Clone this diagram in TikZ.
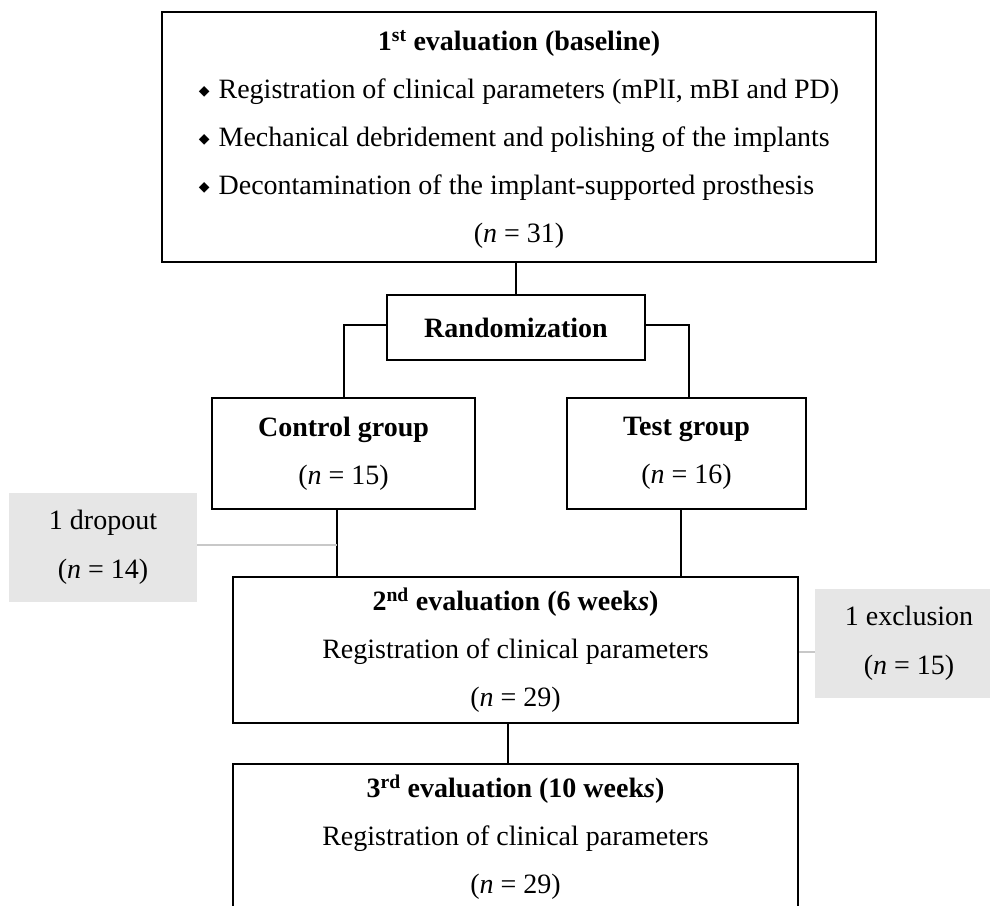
\documentclass[tikz,border=0pt]{standalone}
\usepackage{fontspec}
\setmainfont{Liberation Serif}
\newfontfamily\symfont{DejaVu Sans}
\definecolor{notegray}{HTML}{E6E6E6}
\definecolor{linkgray}{HTML}{C8C8C8}
\newcommand{\dmd}{\raisebox{3.5pt}{\symfont\fontsize{14}{14}\selectfont ◆}\hspace{9pt}}

\begin{document}
\begin{tikzpicture}[
  x=1pt, y=-1pt,
  box/.style={draw, line width=2pt, inner sep=0pt, align=center,
    font=\fontsize{28}{48}\selectfont},
  note/.style={fill=notegray, inner sep=0pt, align=center,
    font=\fontsize{28}{49}\selectfont},
  link/.style={line width=2pt},
  faint/.style={linkgray, line width=2pt},
]
\clip (0,0) rectangle (990,905);

% ===== baseline and randomization =====
\node[box, minimum width=714pt, minimum height=250pt] (base) at (519,137) {%
  \begin{tabular}{@{}l@{}}
  \multicolumn{1}{c}{\textbf{1\textsuperscript{st} evaluation (baseline)}}\\
  \dmd Registration of clinical parameters (mPlI, mBI and PD)\\
  \dmd Mechanical debridement and polishing of the implants\\
  \dmd Decontamination of the implant-supported prosthesis\\
  \multicolumn{1}{c}{(\textit{n} = 31)}
  \end{tabular}};
\node[box, minimum width=258pt, minimum height=65pt] (rand) at (516,327.5) {\textbf{Randomization}};

% ===== groups =====
\node[box, minimum width=263pt, minimum height=111pt] (ctrl) at (343.5,453.5)
  {\textbf{Control group}\\(\textit{n} = 15)};
\node[box, minimum width=239pt, minimum height=111pt] (test) at (686.5,453.5)
  {\textbf{Test group}\\(\textit{n} = 16)};
\node[note, minimum width=188pt, minimum height=109pt] (drop) at (103,547.5)
  {1 dropout\\(\textit{n} = 14)};

% ===== follow-up evaluations =====
\node[box, minimum width=565pt, minimum height=146pt] (eval2) at (515.5,650)
  {\textbf{2\textsuperscript{nd} evaluation (6 week\textit{s})}\\Registration of clinical parameters\\(\textit{n} = 29)};
\node[note, minimum width=188pt, minimum height=109pt] (excl) at (909,643.5)
  {1 exclusion\\(\textit{n} = 15)};
\node[box, minimum width=565pt, minimum height=146pt] (eval3) at (515.5,837)
  {\textbf{3\textsuperscript{rd} evaluation (10 week\textit{s})}\\Registration of clinical parameters\\(\textit{n} = 29)};

% connectors
\coordinate (cl) at ([xshift=-7pt]ctrl.south);
\coordinate (tl) at ([xshift=-6pt]test.south);
\coordinate (el) at ([xshift=-8pt]eval2.south);
\draw[link] (rand.north) -- (rand.north |- base.south);
\draw[link] ([yshift=3pt]rand.west) -| (ctrl.north);
\draw[link] ([yshift=3pt]rand.east) -| ([xshift=2pt]test.north);
\draw[link] (cl) -- (cl |- eval2.north);
\draw[link] (tl) -- (tl |- eval2.north);
\draw[link] (el) -- (el |- eval3.north);
\draw[faint] ([yshift=3pt]drop.east) -- ([yshift=3pt]drop.east -| cl);
\draw[faint] ([yshift=-2pt]eval2.east) -- ([yshift=-2pt]eval2.east -| excl.west);

\end{tikzpicture}
\end{document}
